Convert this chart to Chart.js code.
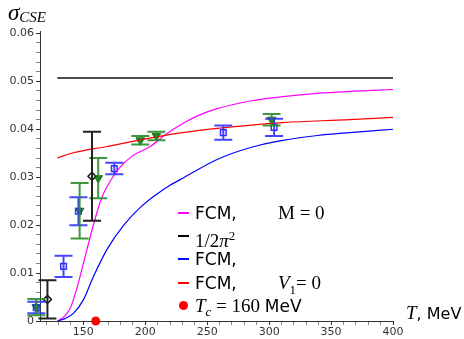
<!DOCTYPE html>
<html>
<head>
<meta charset="utf-8">
<script src="https://cdn.jsdelivr.net/npm/chart.js@4/dist/chart.umd.min.js"></script>
<style>
    body { margin: 0; background: #fff; }
    #wrap { position: relative; width: 464px; height: 339px; }
    .lbl { position: absolute; white-space: nowrap; color: #000; }
    .sans { font-family: 'DejaVu Sans', sans-serif; }
    .math { font-family: 'Liberation Serif', 'DejaVu Serif', serif; font-size: 19px; }
    .it { font-style: italic; }
    .row { position: absolute; left: 176px; height: 22px; line-height: 22px; font-size: 17px; white-space: nowrap; }
    .handle { position: absolute; left: 2px; top: 10px; width: 11px; height: 2px; }
    .dot { position: absolute; left: 3px; top: 6px; width: 9px; height: 9px; border-radius: 50%; background: red; }
    .txt { position: absolute; left: 19px; top: 0; }
    .rhs { position: absolute; left: 102px; top: 0; }
</style>
</head>
<body>
<div id="wrap">
    <canvas id="chart"></canvas>

    <div class="lbl math it" style="left:8px; top:0px; font-size:23px;">σ<sub style="font-size:15px; vertical-align:-2px;">CSE</sub></div>
    <div class="lbl" style="left:406px; top:302px; font-size:16px;"><span class="math it">T</span><span class="sans">, MeV</span></div>

    <div class="row" style="top:202px;">
        <span class="handle" style="background:magenta"></span>
        <span class="txt sans">FCM,</span>
        <span class="rhs math">M = 0</span>
    </div>
    <div class="row" style="top:225px;">
        <span class="handle" style="background:#000"></span>
        <span class="txt math">1/2<span class="it">π</span><sup style="font-size:13px;">2</sup></span>
    </div>
    <div class="row" style="top:248px;">
        <span class="handle" style="background:blue"></span>
        <span class="txt sans">FCM,</span>
    </div>
    <div class="row" style="top:272px;">
        <span class="handle" style="background:red"></span>
        <span class="txt sans">FCM,</span>
        <span class="rhs math"><span class="it">V</span><sub style="font-size:13px;">1</sub>= 0</span>
    </div>
    <div class="row" style="top:295px;">
        <span class="dot"></span>
        <span class="txt"><span class="math it">T</span><sub class="math it" style="font-size:13px;">c</sub><span class="math"> = 160 </span><span class="sans">MeV</span></span>
    </div>
</div>

<script>
// theory curves (T in MeV)
const magentaT = [129, 135, 140, 145, 150, 155, 160, 165, 172, 180, 190, 204, 217, 231, 244, 258, 285, 311, 339, 365, 400];
const magentaV = [0, 0.001, 0.003, 0.007, 0.012, 0.017, 0.0218, 0.0258, 0.0293, 0.0322, 0.0345, 0.0364, 0.039, 0.0413, 0.043, 0.0443, 0.0459, 0.0468, 0.0475, 0.0479, 0.0483];

const blueT = [129.5, 135, 142, 150, 158, 169, 182, 196, 209, 220, 231, 258, 285, 311, 339, 365, 400];
const blueV = [0, 0.0005, 0.0016, 0.0044, 0.0092, 0.0149, 0.0198, 0.0237, 0.0264, 0.0283, 0.0299, 0.0337, 0.0362, 0.0377, 0.0387, 0.0393, 0.040];

const redT = [129, 142, 169, 196, 230, 258, 311, 365, 400];
const redV = [0.034, 0.0351, 0.0364, 0.0378, 0.0393, 0.0402, 0.0414, 0.042, 0.0425];

const blackT = [129, 400];
const blackV = [0.0507, 0.0507];

// lattice points with errors
const sqT = [112, 134, 146, 175, 263, 304];
const sqV = [0.0028, 0.0114, 0.0229, 0.0318, 0.0393, 0.0404];
const sqErr = [0.0012, 0.0022, 0.0029, 0.0012, 0.0015, 0.0018];

const triT = [112, 147, 162, 196, 209, 302];
const triV = [0.0029, 0.0230, 0.0298, 0.0377, 0.0386, 0.0420];
const triErr = [0.0017, 0.0058, 0.0042, 0.0009, 0.0009, 0.0012];

const diaT = [121, 157];
const diaV = [0.0045, 0.0302];
const diaErr = [0.0040, 0.0093];

const tcT = [160];
const tcV = [0];

// ticks
const xMajor = [150, 200, 250, 300, 350, 400];
const xLabels = ['150', '200', '250', '300', '350', '400'];
const yMajor = [0, 0.01, 0.02, 0.03, 0.04, 0.05, 0.06];
const yLabels = ['0', '0.01', '0.02', '0.03', '0.04', '0.05', '0.06'];

const xTicks = [];
for (let t = 120; t <= 400; t += 10) xTicks.push(t);
const yTicks = [];
for (let k = 0; k <= 30; k++) yTicks.push(k * 0.002);

function pts(xs, ys) {
    return xs.map((x, i) => ({ x: x, y: ys[i] }));
}

function majorIndex(list, v) {
    return list.findIndex(m => Math.abs(m - v) < 1e-9);
}

// draws vertical error bars with caps for datasets that carry an errors array
const errorBars = {
    id: 'errorBars',
    afterDatasetsDraw(chart) {
        const ctx = chart.ctx;
        const xs = chart.scales.x;
        const ys = chart.scales.y;
        chart.data.datasets.forEach(ds => {
            if (!ds.errors) return;
            ctx.save();
            ctx.strokeStyle = ds.barColor;
            ctx.lineWidth = 2;
            ds.data.forEach((p, i) => {
                const x = xs.getPixelForValue(p.x);
                const top = ys.getPixelForValue(p.y + ds.errors[i]);
                const bot = ys.getPixelForValue(p.y - ds.errors[i]);
                ctx.beginPath();
                ctx.moveTo(x, top);
                ctx.lineTo(x, bot);
                ctx.moveTo(x - 9, top);
                ctx.lineTo(x + 9, top);
                ctx.moveTo(x - 9, bot);
                ctx.lineTo(x + 9, bot);
                ctx.stroke();
            });
            ctx.restore();
        });
    }
};

Chart.defaults.font.family = 'DejaVu Sans';
Chart.defaults.font.size = 11;
Chart.defaults.color = '#333';

function curve(xs, ys, color, width) {
    return {
        data: pts(xs, ys),
        showLine: true,
        borderColor: color,
        borderWidth: width,
        pointRadius: 0,
        cubicInterpolationMode: 'monotone',
        fill: false
    };
}

const ctx = document.getElementById('chart').getContext('2d');
new Chart(ctx, {
    type: 'scatter',
    data: {
        datasets: [
            curve(blackT, blackV, '#111', 1.5),
            curve(redT, redV, '#ff0000', 1.2),
            curve(blueT, blueV, '#0000ff', 1.2),
            curve(magentaT, magentaV, '#ff00ff', 1.2),
            {
                data: pts(sqT, sqV),
                errors: sqErr,
                barColor: 'rgba(50,50,255,0.9)',
                pointStyle: 'rect',
                pointRadius: 4,
                borderColor: 'rgb(50,50,255)',
                backgroundColor: 'rgba(0,0,0,0)',
                borderWidth: 1.5,
                clip: false
            },
            {
                data: pts(triT, triV),
                errors: triErr,
                barColor: 'rgba(40,140,40,0.9)',
                pointStyle: 'triangle',
                rotation: 180,
                pointRadius: 5,
                borderColor: 'rgb(30,120,30)',
                backgroundColor: 'rgba(0,100,0,0.85)',
                borderWidth: 1,
                clip: false
            },
            {
                data: pts(diaT, diaV),
                errors: diaErr,
                barColor: '#222',
                pointStyle: 'rectRot',
                pointRadius: 4,
                borderColor: '#111',
                backgroundColor: 'rgba(0,0,0,0)',
                borderWidth: 1.5,
                clip: false
            },
            {
                data: pts(tcT, tcV),
                pointStyle: 'circle',
                pointRadius: 4.5,
                borderWidth: 0,
                backgroundColor: '#ff0000',
                clip: false
            }
        ]
    },
    options: {
        responsive: true,
        maintainAspectRatio: false,
        animation: false,
        layout: { padding: { left: 0, right: 71, top: 31, bottom: 0 } },
        plugins: {
            legend: { display: false },
            tooltip: { enabled: false }
        },
        scales: {
            x: {
                type: 'linear',
                min: 115,
                max: 400,
                afterBuildTicks: axis => { axis.ticks = xTicks.map(v => ({ value: v })); },
                afterFit: axis => { axis.height = 18; },
                ticks: {
                    autoSkip: false,
                    maxRotation: 0,
                    padding: 1,
                    callback: v => {
                        const i = majorIndex(xMajor, v);
                        return i >= 0 ? xLabels[i] : '';
                    }
                },
                grid: {
                    drawOnChartArea: false,
                    tickLength: 4,
                    tickColor: c => majorIndex(xMajor, c.tick.value) >= 0 ? '#333' : '#888'
                },
                border: { color: '#333', width: 1 }
            },
            y: {
                type: 'linear',
                min: 0,
                max: 0.0605,
                afterBuildTicks: axis => { axis.ticks = yTicks.map(v => ({ value: v })); },
                afterFit: axis => { axis.width = 40; },
                ticks: {
                    autoSkip: false,
                    padding: 2,
                    callback: v => {
                        const i = majorIndex(yMajor, v);
                        return i >= 0 ? yLabels[i] : '';
                    }
                },
                grid: {
                    drawOnChartArea: false,
                    tickLength: 4,
                    tickColor: c => majorIndex(yMajor, c.tick.value) >= 0 ? '#333' : '#888'
                },
                border: { color: '#333', width: 1 }
            }
        }
    },
    plugins: [errorBars]
});
</script>
</body>
</html>
